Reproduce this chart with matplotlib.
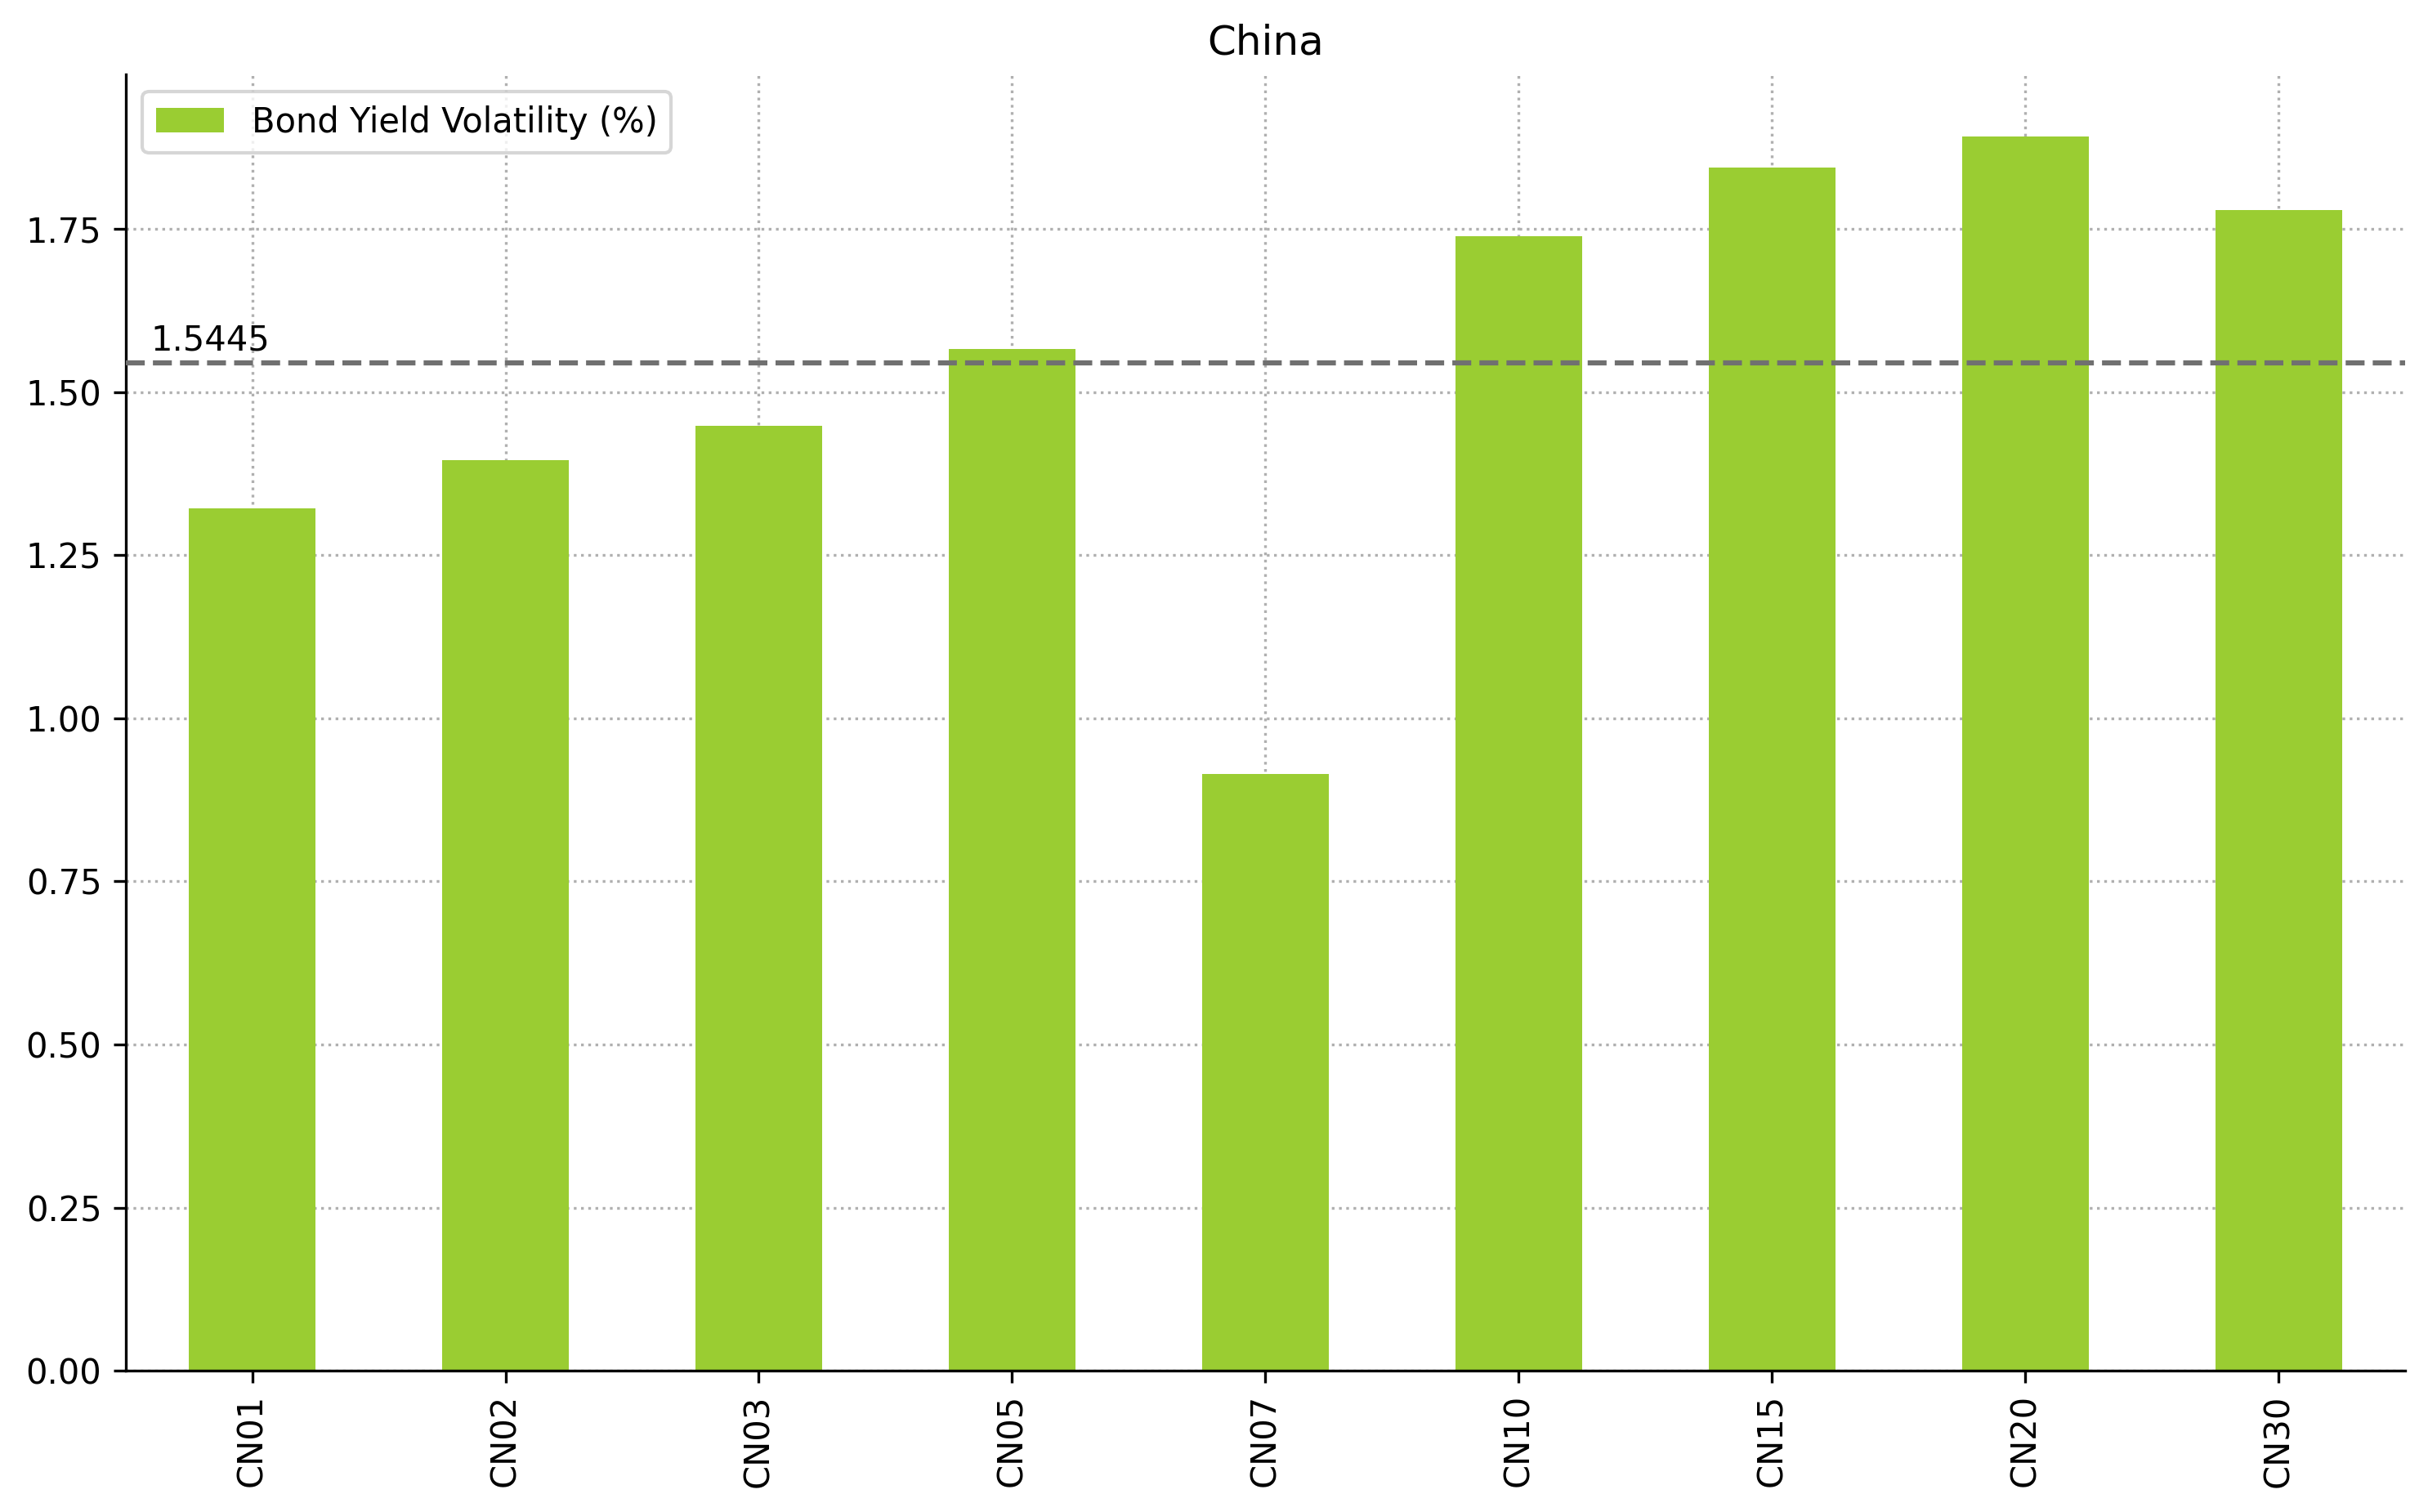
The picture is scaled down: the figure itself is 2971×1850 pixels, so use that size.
import matplotlib
matplotlib.use('Agg')
import matplotlib.pyplot as plt
import numpy as np

tenors = ['CN01', 'CN02', 'CN03', 'CN05', 'CN07', 'CN10', 'CN15', 'CN20', 'CN30']
volatility = [1.3213, 1.3953, 1.4483, 1.5657, 0.9142, 1.7391, 1.8448, 1.8926, 1.7794]
series_label = 'Bond Yield Volatility (%)'
country = 'China'

fig, ax = plt.subplots(figsize=(2971 / 300, 1850 / 300), dpi=300)
fig.subplots_adjust(left=0.0517, right=0.9906, top=0.9508, bottom=0.0935)

x = np.arange(len(tenors))
ax.bar(x, volatility, width=0.5, color='yellowgreen', label=series_label, zorder=2)
ax.set_xlim(-0.5, len(tenors) - 0.5)
ax.set_xticks(x)
ax.set_xticklabels(tenors, rotation=90)

mean_val = np.mean(volatility)
ax.axhline(mean_val, color='#707070', linestyle='--', linewidth=1.5, zorder=3)
ax.text(-0.4, mean_val + 0.02, f"{mean_val:.4f}", fontsize=10)

ax.grid(True, linestyle=':', color='#b0b0b0', linewidth=0.8, zorder=0)
ax.set_axisbelow(True)
ax.spines['top'].set_visible(False)
ax.spines['right'].set_visible(False)

ax.set_title(country)
ax.legend(loc='upper left')

fig.savefig('out.png', dpi=300)
